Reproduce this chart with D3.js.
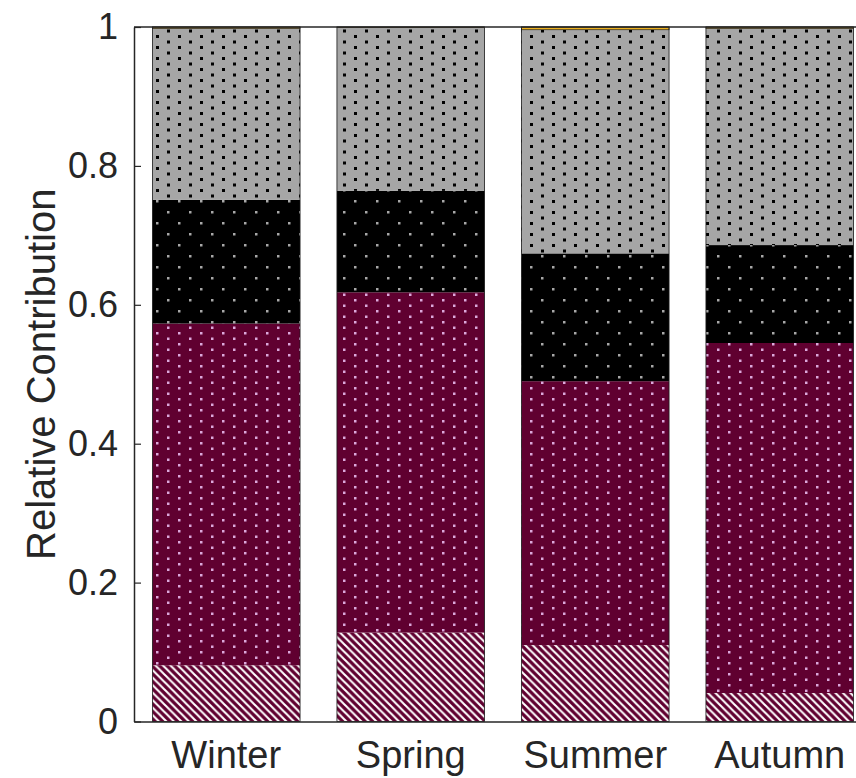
<!DOCTYPE html>
<html>
<head>
<meta charset="utf-8">
<script src="https://cdn.jsdelivr.net/npm/d3@7"></script>
<style>
  html, body { margin: 0; padding: 0; background: #fff; }
  svg { display: block; }
  text { font-family: "Liberation Sans", Arial, Helvetica, sans-serif; fill: #262626; }
</style>
</head>
<body>
<svg id="chart" width="856" height="778"></svg>
<script>
// Seasons on the x axis
const seasons = ["Winter", "Spring", "Summer", "Autumn"];

// Relative contribution of each component per season (stacked bottom to top)
const component1 = [0.081, 0.128, 0.110, 0.041];   // hatched maroon
const component2 = [0.492, 0.490, 0.380, 0.504];   // dotted maroon
const component3 = [0.178, 0.146, 0.184, 0.141];   // dotted black
const component4 = [0.247, 0.235, 0.322, 0.312];   // dotted grey
const component5 = [0.002, 0.001, 0.004, 0.002];   // orange

const yTicks = [0, 0.2, 0.4, 0.6, 0.8, 1];
const yTickLabels = ["0", "0.2", "0.4", "0.6", "0.8", "1"];

const components = [
  { key: "c1", values: component1, fill: "url(#hatchMaroon)" },
  { key: "c2", values: component2, fill: "url(#dotsMaroon)" },
  { key: "c3", values: component3, fill: "url(#dotsBlack)" },
  { key: "c4", values: component4, fill: "url(#dotsGrey)" },
  { key: "c5", values: component5, fill: "#EDB120" }
];

const svg = d3.select("#chart");
const margin = { left: 134, top: 27 };
const plotW = 738, plotH = 694.5;

const defs = svg.append("defs");
const maroon = "#600030";

// Diagonal white hatching on maroon
const hp = defs.append("pattern").attr("id", "hatchMaroon")
  .attr("patternUnits", "userSpaceOnUse").attr("width", 7.5).attr("height", 7.5);
hp.append("rect").attr("width", 7.5).attr("height", 7.5).attr("fill", maroon);
hp.append("path").attr("d", "M-2,-2 L9.5,9.5 M-2,5.5 L2,9.5 M5.5,-2 L9.5,2")
  .attr("stroke", "#fff").attr("stroke-width", 2.1);

// Staggered dot patterns
function dotPattern(id, bg, dot, w, h, size) {
  const p = defs.append("pattern").attr("id", id)
    .attr("patternUnits", "userSpaceOnUse").attr("width", w).attr("height", h);
  p.append("rect").attr("width", w).attr("height", h).attr("fill", bg);
  [[2, 2], [2 + w / 2, 2 + h / 2]].forEach(([x, y]) => {
    p.append("rect").attr("x", x).attr("y", y).attr("width", size).attr("height", size).attr("fill", dot);
  });
}
dotPattern("dotsMaroon", maroon, "#dca8dc", 22, 11, 2.5);
dotPattern("dotsBlack", "#000", "#a8a8a8", 22, 22, 2.5);
dotPattern("dotsGrey", "#a6a6a6", "#000", 22, 11, 3);

const x = d3.scaleBand().domain(seasons)
  .range([margin.left, margin.left + plotW])
  .paddingInner(0.2).paddingOuter(0.1);
const y = d3.scaleLinear().domain([0, 1]).range([margin.top + plotH, margin.top]);

// Stack table built from the component arrays
const table = seasons.map((s, i) => {
  const row = { season: s };
  components.forEach(c => row[c.key] = c.values[i]);
  return row;
});
const stacked = d3.stack().keys(components.map(c => c.key))(table);

const g = svg.append("g");
stacked.forEach((layer, li) => {
  g.append("g").selectAll("rect").data(layer).join("rect")
    .attr("x", d => x(d.data.season))
    .attr("width", x.bandwidth())
    .attr("y", d => y(d[1]))
    .attr("height", d => y(d[0]) - y(d[1]))
    .attr("fill", components[li].fill)
    .attr("stroke", li === components.length - 1 ? "#000" : "none")
    .attr("stroke-width", 0.6);
});

// Bar outlines
g.append("g").selectAll("rect").data(table).join("rect")
  .attr("x", d => x(d.season))
  .attr("width", x.bandwidth())
  .attr("y", y(1))
  .attr("height", y(0) - y(1))
  .attr("fill", "none").attr("stroke", "#1a1a1a").attr("stroke-width", 0.8);

// Axes box
const axisColor = "#262626";
const yAxis = d3.axisLeft(y).tickValues(yTicks)
  .tickFormat((d, i) => yTickLabels[i])
  .tickSizeInner(-7).tickSizeOuter(0).tickPadding(16);
const ya = svg.append("g").attr("transform", `translate(${margin.left},0)`).call(yAxis);
ya.select(".domain").attr("stroke", axisColor).attr("stroke-width", 1.5);
ya.selectAll(".tick line").attr("stroke", axisColor).attr("stroke-width", 1.2);
ya.selectAll(".tick text").style("font-size", "36px").attr("fill", axisColor);

const xAxis = d3.axisBottom(x).tickSize(0).tickPadding(20);
const xa = svg.append("g").attr("transform", `translate(0,${margin.top + plotH})`).call(xAxis);
xa.select(".domain").attr("stroke", axisColor).attr("stroke-width", 1.5);
xa.selectAll(".tick text").style("font-size", "38px").attr("fill", axisColor);

svg.append("line")
  .attr("x1", margin.left).attr("x2", margin.left + plotW)
  .attr("y1", margin.top).attr("y2", margin.top)
  .attr("stroke", axisColor).attr("stroke-width", 1.5);

svg.append("text")
  .attr("transform", `translate(55,${margin.top + plotH / 2}) rotate(-90)`)
  .attr("text-anchor", "middle")
  .style("font-size", "40px")
  .text("Relative Contribution");
</script>
</body>
</html>
